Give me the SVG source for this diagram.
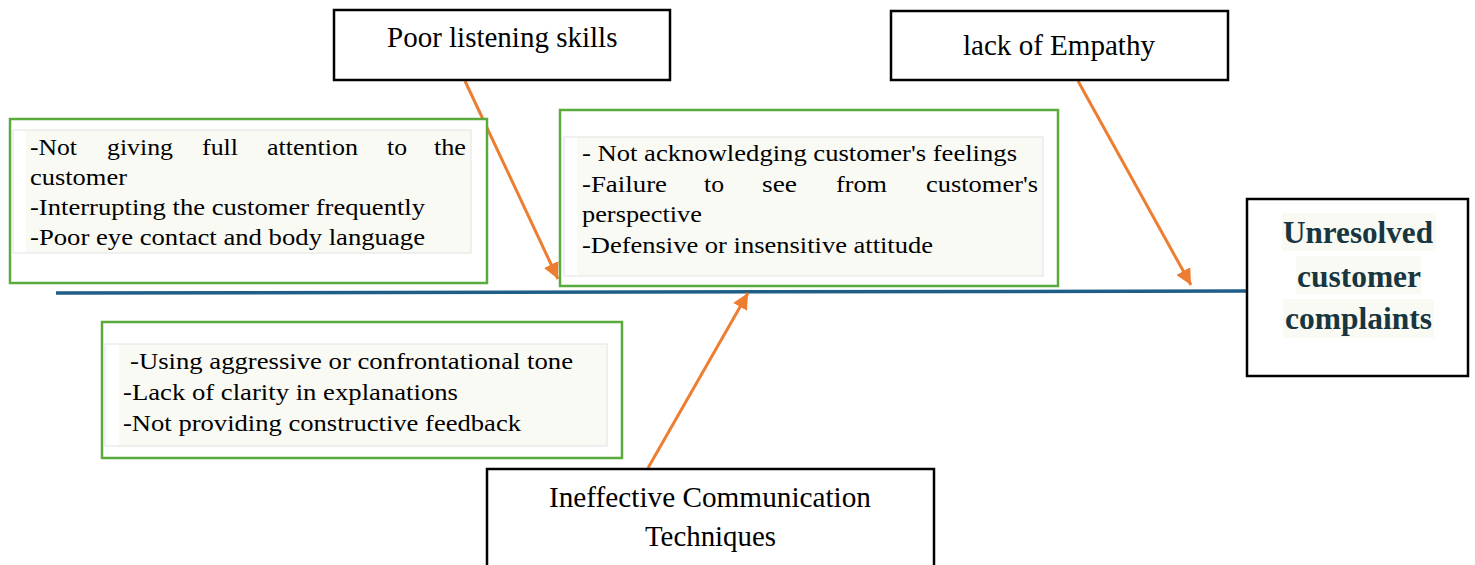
<svg xmlns="http://www.w3.org/2000/svg" width="1475" height="565" viewBox="0 0 1475 565" font-family="Liberation Serif, Times New Roman, serif">
<style>
.hdr{fill:none;stroke:#000;stroke-width:2.5}
.grn{fill:#fff;stroke:#5aab3c;stroke-width:2.5}
.inner{fill:none;stroke:#e2e2e2;stroke-width:1}
.hl{fill:#fafaf5}
.t{fill:#000}
.b{font-size:23px}
.h{font-size:29px}
.main{font-size:31px;font-weight:bold;fill:#17363f}
.arrow{stroke:#ed7d31;stroke-width:3;fill:none}
</style>
<defs>
<marker id="ah" markerUnits="userSpaceOnUse" markerWidth="18" markerHeight="16" refX="16" refY="8" orient="auto">
<path d="M0,0 L16,8 L0,16 z" fill="#ed7d31"/>
</marker>
</defs>
<rect width="1475" height="565" fill="#fff"/>

<g id="connectors">
<line x1="56" y1="293" x2="1247" y2="291" stroke="#1f5f87" stroke-width="3.5"/>
<line class="arrow" x1="465" y1="81" x2="558" y2="279" marker-end="url(#ah)"/>
<line class="arrow" x1="1078" y1="81" x2="1191" y2="285" marker-end="url(#ah)"/>
<line class="arrow" x1="648" y1="468" x2="748" y2="293" marker-end="url(#ah)"/>
</g>

<g id="poor-listening">
<rect class="hdr" x="334" y="10" width="336" height="70"/>
<text class="t h" x="387" y="47" font-family="Liberation Serif">Poor listening skills</text>
</g>

<g id="lack-empathy">
<rect class="hdr" x="891" y="11" width="337" height="69"/>
<text class="t h" x="963" y="55" textLength="192" lengthAdjust="spacingAndGlyphs" font-family="Liberation Serif">lack of Empathy</text>
</g>

<g id="ineffective">
<rect class="hdr" x="487" y="469" width="447" height="110"/>
<text class="t h" x="549" y="507" textLength="322" lengthAdjust="spacingAndGlyphs" font-family="Liberation Serif">Ineffective Communication</text>
<text class="t h" x="645" y="546" textLength="131" lengthAdjust="spacingAndGlyphs" font-family="Liberation Serif">Techniques</text>
</g>

<g id="unresolved">
<rect class="hdr" x="1247" y="199" width="221" height="177"/>
<rect class="hl" x="1282" y="213" width="154" height="38"/>
<rect class="hl" x="1296" y="256" width="125" height="38"/>
<rect class="hl" x="1283" y="299" width="151" height="39"/>
<text class="main" x="1283" y="243" textLength="150" lengthAdjust="spacingAndGlyphs" font-family="Liberation Serif">Unresolved</text>
<text class="main" x="1297" y="287" textLength="124" lengthAdjust="spacingAndGlyphs" font-family="Liberation Serif">customer</text>
<text class="main" x="1285" y="329" textLength="147" lengthAdjust="spacingAndGlyphs" font-family="Liberation Serif">complaints</text>
</g>

<g id="listening-causes" font-family="Liberation Serif">
<rect class="grn" x="10" y="119" width="477" height="164"/>
<rect class="hl" x="26" y="130" width="445" height="123"/>
<rect class="inner" x="13" y="130" width="458" height="123"/>
<text class="t b" x="30" y="155" textLength="47" lengthAdjust="spacingAndGlyphs">-Not</text>
<text class="t b" x="107" y="155" textLength="66" lengthAdjust="spacingAndGlyphs">giving</text>
<text class="t b" x="202" y="155" textLength="36" lengthAdjust="spacingAndGlyphs">full</text>
<text class="t b" x="267" y="155" textLength="91" lengthAdjust="spacingAndGlyphs">attention</text>
<text class="t b" x="387" y="155" textLength="20" lengthAdjust="spacingAndGlyphs">to</text>
<text class="t b" x="434" y="155" textLength="32" lengthAdjust="spacingAndGlyphs">the</text>
<text class="t b" x="30" y="185" textLength="97" lengthAdjust="spacingAndGlyphs">customer</text>
<text class="t b" x="30" y="215" textLength="395" lengthAdjust="spacingAndGlyphs">-Interrupting the customer frequently</text>
<text class="t b" x="30" y="245" textLength="395" lengthAdjust="spacingAndGlyphs">-Poor eye contact and body language</text>
</g>

<g id="empathy-causes" font-family="Liberation Serif">
<rect class="grn" x="560" y="110" width="498" height="176"/>
<rect class="hl" x="577" y="137" width="466" height="139"/>
<rect class="inner" x="564" y="137" width="479" height="139"/>
<text class="t b" x="582" y="161" textLength="435" lengthAdjust="spacingAndGlyphs">- Not acknowledging customer's feelings</text>
<text class="t b" x="582" y="192" textLength="85" lengthAdjust="spacingAndGlyphs">-Failure</text>
<text class="t b" x="704" y="192" textLength="20" lengthAdjust="spacingAndGlyphs">to</text>
<text class="t b" x="762" y="192" textLength="35" lengthAdjust="spacingAndGlyphs">see</text>
<text class="t b" x="836" y="192" textLength="51" lengthAdjust="spacingAndGlyphs">from</text>
<text class="t b" x="926" y="192" textLength="112" lengthAdjust="spacingAndGlyphs">customer's</text>
<text class="t b" x="582" y="222" textLength="120" lengthAdjust="spacingAndGlyphs">perspective</text>
<text class="t b" x="582" y="253" textLength="351" lengthAdjust="spacingAndGlyphs">-Defensive or insensitive attitude</text>
</g>

<g id="communication-causes" font-family="Liberation Serif">
<rect class="grn" x="102" y="322" width="520" height="136"/>
<rect class="hl" x="119" y="344" width="488" height="102"/>
<rect class="inner" x="105" y="344" width="502" height="102"/>
<text class="t b" x="130" y="369" textLength="443" lengthAdjust="spacingAndGlyphs">-Using aggressive or confrontational tone</text>
<text class="t b" x="123" y="400" textLength="335" lengthAdjust="spacingAndGlyphs">-Lack of clarity in explanations</text>
<text class="t b" x="123" y="431" textLength="398" lengthAdjust="spacingAndGlyphs">-Not providing constructive feedback</text>
</g>
</svg>
